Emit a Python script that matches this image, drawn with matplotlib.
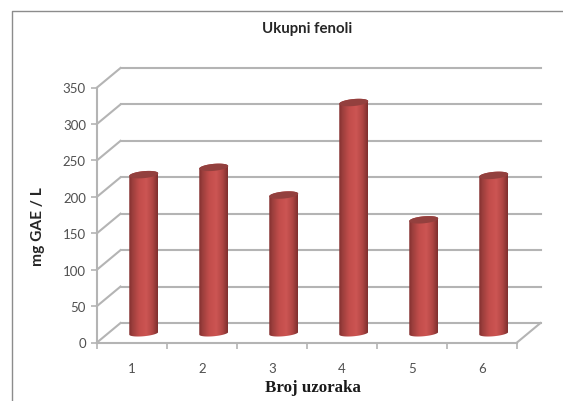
import numpy as np
import matplotlib
matplotlib.use("Agg")
import matplotlib.pyplot as plt
from matplotlib.colors import LinearSegmentedColormap
from matplotlib.lines import Line2D
from matplotlib.path import Path
from matplotlib.patches import PathPatch

samples = ["1", "2", "3", "4", "5", "6"]
values = [217, 227, 189, 316, 155, 216]
y_ticks = [0, 50, 100, 150, 200, 250, 300, 350]

title = "Ukupni fenoli"
x_title = "Broj uzoraka"
y_title = "mg GAE / L"

W, H = 563, 402
GRID = "#b4b4b4"
TEXT = "#505050"

# plot area of the front plane, in pixels
left, right, bottom, top = 97, 517, 343.5, 88.5
px_x = 6 / (right - left)
px_y = 350 / (bottom - top)
# depth of the fake 3d box
depth_x = 23.5 * px_x
depth_y = 19.5 * px_y

fig = plt.figure(figsize=(W / 100, H / 100), dpi=100)
ax = fig.add_axes([left / W, 1 - bottom / H, (right - left) / W, (bottom - top) / H])
ax.patch.set_visible(False)

# outer frame of the pasted chart, only top and left show
fig.add_artist(Line2D([12 / W, 12 / W, 1], [0, 1 - 11.5 / H, 1 - 11.5 / H],
                      color="#8c8c8c", lw=1.0))

# back wall gridlines and side wall diagonals
for v in y_ticks:
    ax.plot([depth_x, 6 + depth_x], [v + depth_y, v + depth_y], color=GRID, lw=1.5,
            clip_on=False, zorder=1)
    ax.plot([0, depth_x], [v, v + depth_y], color=GRID, lw=1.5, clip_on=False, zorder=1)
ax.plot([6, 6 + depth_x], [0, depth_y], color=GRID, lw=1.5, clip_on=False, zorder=1)

cmap = LinearSegmentedColormap.from_list("cyl", [
    (0.0, "#84302f"), (0.12, "#9c3f3d"), (0.35, "#c24d4b"), (0.6, "#cc5553"),
    (0.82, "#b04644"), (1.0, "#7f2f2e")])
shade = np.linspace(0, 1, 64).reshape(1, -1)

half_w = 14.5 * px_x
rim_h = 3.0 * px_y
tilt = 1.3 * px_y
t = np.linspace(0, 2 * np.pi, 80)


def rim(cx, cy, bh):
    return cx + half_w * np.cos(t), cy + bh * np.sin(t) + tilt * np.cos(t)


for i, v in enumerate(values):
    cx = i + 0.5 + depth_x / 2
    base = depth_y / 2 - 0.5 * px_y
    head = v + depth_y / 2

    # body outline: lower half of the base rim plus the upper half of the top rim
    bx, by = rim(cx, base, rim_h)
    tx, ty = rim(cx, head, rim_h + 0.5 * px_y)
    low = t >= np.pi
    up = t <= np.pi
    verts = np.vstack([np.column_stack([bx[low], by[low]]),
                       np.column_stack([tx[up], ty[up]])])
    body = PathPatch(Path(np.vstack([verts, verts[:1]])), transform=ax.transData,
                     fc="none", ec="none")
    ax.add_patch(body)
    im = ax.imshow(shade, cmap=cmap, aspect="auto", zorder=3,
                   extent=[cx - half_w, cx + half_w, base - rim_h * 2, head + rim_h * 2])
    im.set_clip_path(body)
    ax.fill(tx, ty, color="#93403e", lw=0, zorder=4, clip_on=False)

ax.set_xlim(0, 6)
ax.set_ylim(0, 350)

for s in ["top", "right"]:
    ax.spines[s].set_visible(False)
for s in ["left", "bottom"]:
    ax.spines[s].set_color(GRID)
    ax.spines[s].set_linewidth(1.5)

ax.set_yticks(y_ticks)
ax.set_xticks(np.arange(0, 7))
ax.set_xticklabels([])
ax.set_xticks(np.arange(0.5, 6), labels=samples, minor=True)
ax.tick_params(axis="both", which="major", length=4, width=1.2, color=GRID,
               labelcolor=TEXT, labelsize=9.5, pad=4)
ax.tick_params(axis="x", which="minor", length=0, labelcolor=TEXT, labelsize=9.5, pad=14)
for lb in ax.get_yticklabels() + ax.get_xticklabels(minor=True):
    lb.set_family("Lato")

fig.text(307.5 / W, 1 - 29 / H, title, family="Lato", weight="bold", fontsize=10.8,
         color="#262626", ha="center", va="center")
fig.text(312.5 / W, 1 - 388 / H, x_title, family="Liberation Serif", weight="bold",
         fontsize=12.2, color="#1a1a1a", ha="center", va="center")
fig.text(38 / W, 1 - 227 / H, y_title, family="Lato", weight="bold", fontsize=11.2,
         color="#262626", rotation=90, ha="center", va="center")

fig.savefig("out.png", dpi=100)
